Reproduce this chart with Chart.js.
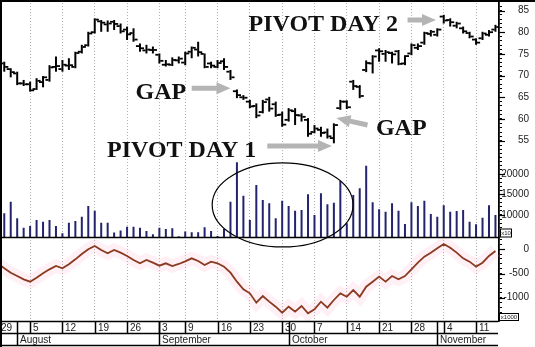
<!DOCTYPE html>
<html>
<head>
<meta charset="utf-8">
<script src="https://cdn.jsdelivr.net/npm/chart.js@4.4.1/dist/chart.umd.min.js"></script>
<style>
  html, body { margin: 0; padding: 0; background: #fff; }
  #chart { display: block; }
</style>
</head>
<body>
<canvas id="chart" width="535" height="347"></canvas>
<script>
// trading days shown on the chart
const days = [
  'Jul 29', 'Jul 30', 'Jul 31', 'Aug 1', 'Aug 2',
  'Aug 5', 'Aug 6', 'Aug 7', 'Aug 8', 'Aug 9',
  'Aug 12', 'Aug 13', 'Aug 14', 'Aug 15', 'Aug 16',
  'Aug 19', 'Aug 20', 'Aug 21', 'Aug 22', 'Aug 23',
  'Aug 26', 'Aug 27', 'Aug 28', 'Aug 29', 'Aug 30',
  'Sep 3', 'Sep 4', 'Sep 5', 'Sep 6',
  'Sep 9', 'Sep 10', 'Sep 11', 'Sep 12', 'Sep 13',
  'Sep 16', 'Sep 17', 'Sep 18', 'Sep 19', 'Sep 20',
  'Sep 23', 'Sep 24', 'Sep 25', 'Sep 26', 'Sep 27',
  'Sep 30', 'Oct 1', 'Oct 2', 'Oct 3', 'Oct 4',
  'Oct 7', 'Oct 8', 'Oct 9', 'Oct 10', 'Oct 11',
  'Oct 14', 'Oct 15', 'Oct 16', 'Oct 17', 'Oct 18',
  'Oct 21', 'Oct 22', 'Oct 23', 'Oct 24', 'Oct 25',
  'Oct 28', 'Oct 29', 'Oct 30', 'Oct 31', 'Nov 1',
  'Nov 4', 'Nov 5', 'Nov 6', 'Nov 7', 'Nov 8',
  'Nov 11', 'Nov 12', 'Nov 13', 'Nov 14'
];

const highs = [
  73.5, 73.2, 71.7, 70.9, 69.0, 68.6, 69.4, 69.9, 72.4, 74.4,
  73.6, 74.0, 75.5, 77.1, 80.1, 83.2, 82.8, 82.7, 82.8, 82.0,
  81.3, 80.9, 77.4, 77.1, 76.7, 75.1, 73.6, 74.2, 74.4, 75.5,
  76.7, 77.8, 75.1, 73.2, 73.6, 74.0, 71.3, 66.8, 65.5, 64.4,
  63.6, 64.4, 65.1, 64.0, 61.7, 62.5, 62.5, 61.3, 60.2, 58.6,
  58.2, 57.8, 59.0, 64.4, 64.3, 69.0, 67.8, 73.5, 74.7, 76.3,
  75.9, 75.5, 75.9, 74.7, 77.4, 77.4, 80.1, 80.5, 80.9, 84.0,
  83.2, 82.4, 81.3, 80.1, 78.6, 80.1, 80.5, 81.7
];
const lows = [
  71.0, 70.9, 69.6, 67.8, 67.6, 66.3, 66.7, 67.3, 68.6, 70.9,
  70.9, 71.3, 71.7, 75.1, 76.7, 79.7, 80.1, 80.1, 80.5, 79.7,
  78.2, 77.8, 75.5, 75.1, 75.1, 72.8, 72.1, 72.2, 72.8, 72.4,
  74.0, 74.4, 71.7, 71.7, 71.7, 71.3, 69.0, 64.8, 64.4, 62.5,
  60.2, 61.3, 61.7, 60.5, 58.2, 59.4, 58.6, 59.4, 55.9, 56.7,
  55.9, 55.5, 54.4, 62.1, 62.3, 66.7, 64.8, 70.8, 70.5, 73.2,
  73.2, 72.8, 72.4, 72.4, 74.7, 75.9, 77.1, 79.0, 79.0, 82.0,
  81.3, 80.9, 79.7, 78.6, 77.1, 78.2, 79.0, 80.1
];
const opens = [
  71.5, 72.8, 71.5, 70.5, 68.2, 68.0, 66.9, 68.5, 69.0, 72.0,
  71.5, 72.3, 72.0, 75.5, 77.0, 80.0, 82.5, 81.8, 82.4, 81.4,
  80.6, 79.8, 76.8, 75.8, 75.9, 74.8, 72.5, 72.5, 73.5, 73.0,
  75.5, 76.0, 75.0, 72.8, 72.0, 73.3, 70.9, 66.4, 65.0, 64.0,
  63.0, 61.6, 64.5, 63.4, 61.0, 59.8, 61.8, 60.8, 59.8, 57.0,
  57.5, 56.9, 55.6, 62.5, 64.0, 68.6, 67.4, 71.3, 72.8, 75.8,
  75.0, 75.2, 75.6, 72.8, 75.1, 76.4, 77.6, 79.6, 79.4, 83.6,
  82.8, 81.5, 80.9, 79.8, 78.3, 78.6, 79.4, 80.6
];
const closes = [
  73.0, 72.0, 70.8, 68.2, 68.0, 66.6, 68.8, 69.6, 71.9, 72.2,
  72.5, 72.4, 75.2, 76.6, 79.7, 82.9, 82.2, 82.0, 81.9, 80.2,
  79.5, 78.3, 76.3, 76.0, 75.9, 73.4, 72.6, 73.6, 73.9, 75.1,
  76.4, 75.4, 72.0, 72.3, 72.9, 72.0, 69.6, 65.5, 64.9, 62.9,
  60.8, 63.9, 62.4, 60.9, 58.7, 62.0, 60.9, 60.5, 56.6, 57.8,
  56.8, 56.0, 58.6, 64.0, 62.7, 67.6, 65.3, 72.9, 74.4, 75.6,
  75.4, 74.9, 72.7, 74.5, 77.0, 76.8, 79.8, 80.1, 80.6, 82.7,
  82.3, 82.0, 80.2, 79.0, 77.6, 79.7, 80.0, 81.2
];

const volume = [
  9000, 10420, 13250, 9190, 6900, 7320, 8780, 8370, 8780, 7320,
  5530, 8130, 8540, 9590, 12200, 11050, 8130, 8130, 5690, 6180,
  7150, 7150, 6900, 6100, 5290, 6900, 6590, 6750, 4800, 5940,
  5770, 5770, 7000, 6100, 4880, 6590, 13250, 22850, 14700, 8780,
  17320, 13660, 12850, 9190, 13490, 12200, 11050, 11220, 15040, 10000,
  15290, 12600, 13000, 18290, 7970, 14880, 16500, 22030, 13100, 11390,
  10810, 12850, 11050, 7800, 13100, 12200, 13490, 10240, 9590, 12360,
  10810, 10980, 11220, 8370, 7720, 9350, 12360, 10000
];

const oscillator = [
  -290, -393, -483, -552, -620, -669, -586, -496, -414, -345,
  -393, -310, -207, -96, 0, 68, -14, -83, -14, -69,
  -138, -221, -289, -221, -276, -338, -289, -345, -303, -248,
  -186, -241, -324, -255, -289, -358, -483, -669, -827, -910,
  -1103, -965, -1080, -1185, -1309, -1185, -1288, -1171, -1323, -1240,
  -1082, -1206, -1047, -910, -979, -841, -979, -772, -669, -565,
  -669, -552, -620, -552, -414, -276, -152, -69, 21, 110,
  34, -69, -186, -255, -358, -276, -138, -34
];

const weekTicks = ['Jul 29', 'Aug 5', 'Aug 12', 'Aug 19', 'Aug 26', 'Sep 3', 'Sep 9', 'Sep 16',
  'Sep 23', 'Sep 30', 'Oct 7', 'Oct 14', 'Oct 21', 'Oct 28', 'Nov 4', 'Nov 11'];
const monthStarts = ['Aug 1', 'Sep 3', 'Oct 1', 'Nov 1'];
const monthNames = ['August', 'September', 'October', 'November'];

const priceLabels = [55, 60, 65, 70, 75, 80, 85];
const volumeLabels = [10000, 15000, 20000];
const oscLabels = [-1000, -500, 0];

// notes drawn over the chart, anchored in (day index, price)
const notes = [
  { text: 'GAP', at: [21.3, 64.7], tail: [30.0, 67.1], tip: [36.0, 67.1] },
  { text: 'PIVOT DAY 2', at: [38.8, 80.3], tail: [63.4, 82.8], tip: [67.8, 82.8] },
  { text: 'PIVOT DAY 1', at: [16.9, 51.25], tail: [41.7, 53.8], tip: [51.7, 53.8] },
  { text: 'GAP', at: [58.5, 56.3], tail: [57.2, 58.6], tip: [52.4, 60.2] }
];

const dayIndex = d => days.indexOf(d);

function panelAxis(weight, min, max, step, labels) {
    return {
        position: 'right',
        stack: 'panels',
        stackWeight: weight,
        min: min,
        max: max,
        afterBuildTicks: s => {
            const t = [];
            for (let v = Math.ceil(min / step) * step; v <= max; v += step) t.push({ value: v });
            s.ticks = t;
        },
        afterFit: s => { s.width = 30; s.paddingTop = 0; s.paddingBottom = 0; },
        grid: { drawOnChartArea: false, tickLength: 3, tickColor: '#000', tickWidth: 1 },
        border: { color: '#000', width: 1.8 },
        ticks: {
            autoSkip: false,
            crossAlign: 'far',
            padding: 0,
            color: '#222',
            font: { family: 'Arial, "Liberation Sans"', size: 10 },
            callback: v => labels.includes(v) ? String(v) : ''
        }
    };
}

function line(ctx, x1, y1, x2, y2) {
    ctx.beginPath();
    ctx.moveTo(x1, y1);
    ctx.lineTo(x2, y2);
    ctx.stroke();
}

function arrow(ctx, x1, y1, x2, y2) {
    const ang = Math.atan2(y2 - y1, x2 - x1);
    const len = Math.hypot(x2 - x1, y2 - y1);
    ctx.save();
    ctx.translate(x1, y1);
    ctx.rotate(ang);
    ctx.fillStyle = '#b4b4b4';
    ctx.beginPath();
    ctx.moveTo(0, -2.5);
    ctx.lineTo(len - 14, -2.5);
    ctx.lineTo(len - 14, -6);
    ctx.lineTo(len, 0);
    ctx.lineTo(len - 14, 6);
    ctx.lineTo(len - 14, 2.5);
    ctx.lineTo(0, 2.5);
    ctx.closePath();
    ctx.fill();
    ctx.restore();
}

function unitBox(ctx, text, x, y, w, h) {
    ctx.fillStyle = '#fff';
    ctx.fillRect(x, y, w, h);
    ctx.lineWidth = 1;
    ctx.strokeStyle = '#000';
    ctx.strokeRect(x + 0.5, y + 0.5, w - 1, h - 1);
    ctx.fillStyle = '#222';
    ctx.font = '6px Arial';
    ctx.textAlign = 'center';
    ctx.textBaseline = 'middle';
    ctx.fillText(text, x + w / 2, y + h / 2 + 0.5);
}

const overlay = {
    id: 'overlay',
    afterDraw(chart) {
        const ctx = chart.ctx;
        const area = chart.chartArea;
        const x = chart.scales.x, yP = chart.scales.yPrice, yV = chart.scales.yVol, yO = chart.scales.yOsc;
        ctx.save();

        // longer marks at the labelled values
        ctx.strokeStyle = '#000';
        ctx.lineWidth = 1.2;
        [[yP, priceLabels], [yV, volumeLabels], [yO, oscLabels]].forEach(([s, vals]) => {
            vals.forEach(v => {
                const py = Math.round(s.getPixelForValue(v)) + 0.5;
                line(ctx, s.left, py, s.left + 6, py);
            });
        });

        // volume baseline
        ctx.lineWidth = 1.5;
        line(ctx, area.left, yV.bottom, area.right, yV.bottom);

        unitBox(ctx, 'x10', area.right + 1, yV.bottom - 9, 12, 9);
        unitBox(ctx, 'x1000', area.right, area.bottom - 8, 20, 8);

        // date axis boxes
        const r1 = area.bottom + 0.5, r2 = r1 + 12, r3 = chart.height - 1.5;
        ctx.strokeStyle = '#000';
        ctx.lineWidth = 1.5;
        line(ctx, 0, r1, area.right - 1, r1);
        line(ctx, 0, r2, area.right - 1, r2);
        line(ctx, 0, r3, area.right - 1, r3);
        ctx.fillStyle = '#222';
        ctx.font = '10px Arial, "Liberation Sans"';
        ctx.textAlign = 'left';
        ctx.textBaseline = 'alphabetic';
        weekTicks.forEach(d => {
            const px = Math.round(x.getPixelForValue(dayIndex(d))) + 0.5;
            line(ctx, px, r1, px, r2);
            ctx.fillText(d.split(' ')[1], px + 2.5, r2 - 2.5);
        });
        monthStarts.forEach((d, k) => {
            const px = Math.round(x.getPixelForValue(dayIndex(d))) + 0.5;
            line(ctx, px, r1, px, r3);
            ctx.fillText(monthNames[k], px + 2.5, r3 - 2.5);
        });

        // frame
        ctx.lineWidth = 2;
        line(ctx, 1, 0, 1, chart.height);
        line(ctx, 0, 1, chart.width, 1);

        // ellipse round the volume surge
        const cx = x.getPixelForValue(44.07);
        const rx = x.getPixelForValue(54.97) - cx;
        const cy = yV.getPixelForValue(12440);
        ctx.lineWidth = 1.2;
        ctx.beginPath();
        ctx.ellipse(cx, cy, rx, 42, 0, 0, Math.PI * 2);
        ctx.stroke();

        // notes
        ctx.font = 'bold 24px "Liberation Serif", "Times New Roman", serif';
        ctx.textAlign = 'left';
        notes.forEach(n => {
            arrow(ctx, x.getPixelForValue(n.tail[0]), yP.getPixelForValue(n.tail[1]),
                x.getPixelForValue(n.tip[0]), yP.getPixelForValue(n.tip[1]));
            ctx.fillStyle = '#111';
            ctx.fillText(n.text, x.getPixelForValue(n.at[0]), yP.getPixelForValue(n.at[1]));
        });
        ctx.restore();
    }
};

new Chart(document.getElementById('chart'), {
    type: 'bar',
    data: {
        datasets: [
            {
                type: 'bar',
                label: 'High-Low',
                data: highs.map((h, i) => ({ x: i, y: [lows[i], h] })),
                yAxisID: 'yPrice',
                backgroundColor: '#000',
                grouped: false,
                maxBarThickness: 2,
                order: 2
            },
            {
                type: 'scatter',
                label: 'Open',
                data: opens.map((o, i) => ({ x: i - 0.38, y: o })),
                yAxisID: 'yPrice',
                showLine: false,
                pointStyle: 'line',
                pointRadius: 1.6,
                pointBorderColor: '#000',
                pointBorderWidth: 1.8,
                order: 1
            },
            {
                type: 'scatter',
                label: 'Close',
                data: closes.map((c, i) => ({ x: i + 0.38, y: c })),
                yAxisID: 'yPrice',
                showLine: false,
                pointStyle: 'line',
                pointRadius: 1.6,
                pointBorderColor: '#000',
                pointBorderWidth: 1.8,
                order: 1
            },
            {
                type: 'bar',
                label: 'Volume',
                data: volume.map((v, i) => ({ x: i, y: v })),
                yAxisID: 'yVol',
                base: 4500,
                backgroundColor: '#23236e',
                grouped: false,
                maxBarThickness: 2,
                order: 2
            },
            {
                type: 'line',
                label: 'Oscillator',
                data: oscillator.map((v, i) => ({ x: i, y: v })),
                yAxisID: 'yOsc',
                borderColor: '#8a3a1f',
                borderWidth: 1.8,
                pointRadius: 0,
                tension: 0,
                order: 0
            },
            {
                type: 'line',
                label: 'Oscillator band',
                data: oscillator.map((v, i) => ({ x: i, y: v })),
                yAxisID: 'yOsc',
                borderColor: 'rgba(255, 185, 210, 0.22)',
                borderWidth: 13,
                pointRadius: 0,
                tension: 0,
                order: 9
            }
        ]
    },
    options: {
        responsive: false,
        animation: false,
        events: [],
        layout: { padding: { left: 0, top: 0, bottom: 0, right: 6 }, autoPadding: false },
        plugins: { legend: { display: false }, tooltip: { enabled: false } },
        scales: {
            x: {
                type: 'linear',
                position: 'bottom',
                offset: false,
                min: 0.34,
                max: 77.55,
                afterBuildTicks: s => { s.ticks = weekTicks.map(d => ({ value: dayIndex(d) })); },
                afterFit: s => { s.height = 26; },
                ticks: { display: false },
                grid: { color: '#b0b0b0', drawTicks: false, lineWidth: 1, offset: false },
                border: { display: false, dash: [1, 2] }
            },
            yPrice: panelAxis(157, 51.24, 87.42, 1, priceLabels),
            yVol: panelAxis(80.5, 4500, 24150, 1000, volumeLabels),
            yOsc: panelAxis(83.5, -1481, 244, 100, oscLabels)
        }
    },
    plugins: [overlay]
});
</script>
</body>
</html>
